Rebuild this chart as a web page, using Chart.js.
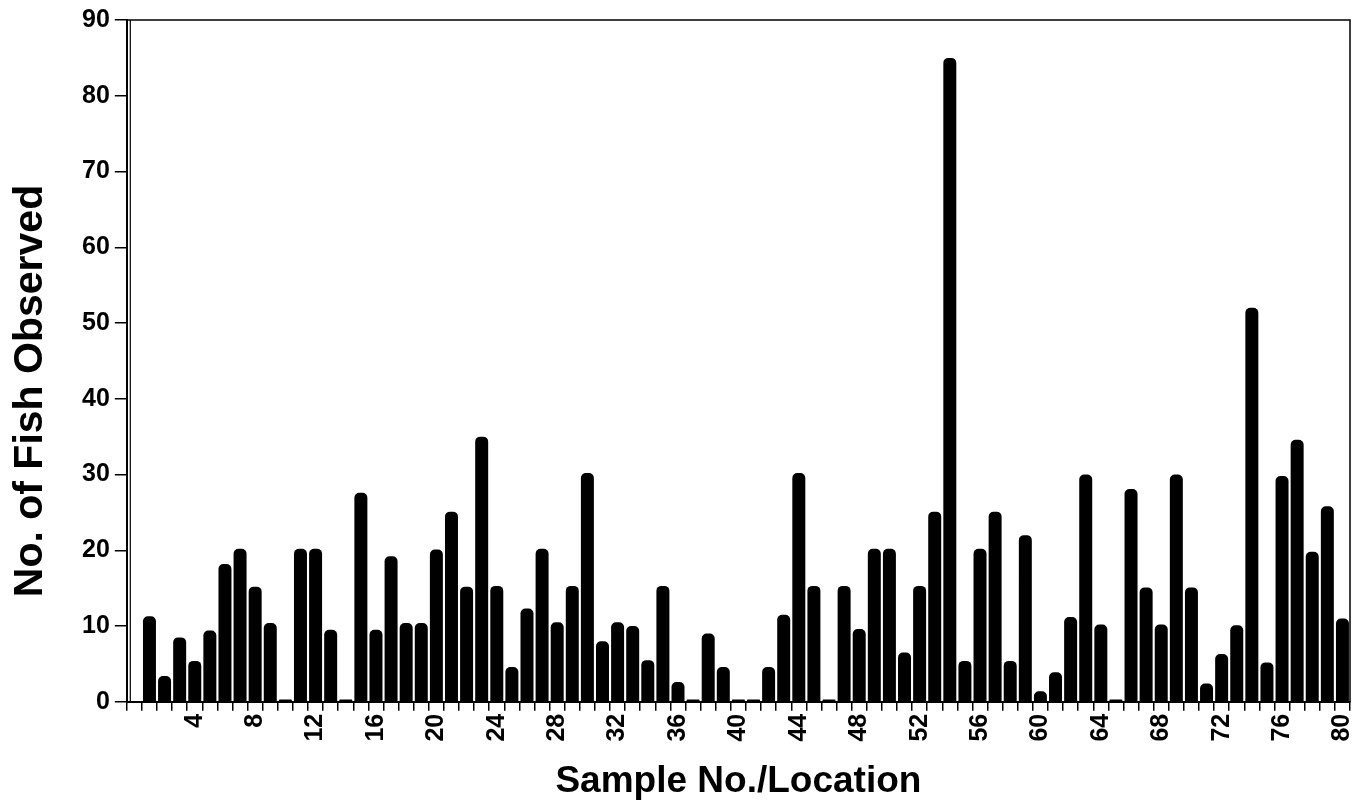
<!DOCTYPE html>
<html>
<head>
<meta charset="utf-8">
<script src="https://cdn.jsdelivr.net/npm/chart.js@4/dist/chart.umd.min.js"></script>
<style>
  html, body { margin: 0; padding: 0; background: #fff; }
  #wrap { width: 1357px; height: 804px; }
</style>
</head>
<body>
<div id="wrap"><canvas id="chart1"></canvas></div>
<script>
// sample numbers 1..80 (the axis also has an empty slot before sample 1)
var samples = []
for (var i = 1; i <= 80; i++) samples.push(String(i))

// fish counts (flat stubs drawn as 0.3)
var fishCounts = [
  11.3, 3.4, 8.5, 5.4, 9.4, 18.2, 20.2, 15.2, 10.4, 0.3,
  20.2, 20.2, 9.5, 0.3, 27.6, 9.5, 19.2, 10.4, 10.4, 20.1,
  25.1, 15.2, 35, 15.3, 4.6, 12.3, 20.2, 10.5, 15.3, 30.2,
  8, 10.5, 10, 5.5, 15.3, 2.6, 0.3, 9, 4.6, 0.3,
  0.3, 4.6, 11.5, 30.2, 15.3, 0.3, 15.3, 9.6, 20.2, 20.2,
  6.5, 15.3, 25.1, 85, 5.4, 20.2, 25.1, 5.4, 22, 1.4,
  3.9, 11.2, 30, 10.2, 0.3, 28.1, 15.1, 10.2, 30, 15.1,
  2.4, 6.3, 10.1, 52, 5.2, 29.8, 34.6, 19.8, 25.8, 11
]

var yTicks = [0, 10, 20, 30, 40, 50, 60, 70, 80, 90]
var yTitle = 'No. of Fish Observed'
var xTitle = 'Sample No./Location'

var fam = 'Liberation Sans, Arial, sans-serif'
var labelFont = { family: fam, size: 25, weight: 'bold' }

// box round the plot area, second left rule, and the y title
const framePlugin = {
  id: 'frame',
  afterDraw(chart) {
    var a = chart.chartArea
    var ctx = chart.ctx
    ctx.save()
    ctx.strokeStyle = '#000'
    ctx.lineWidth = 1.5
    ctx.strokeRect(a.left, a.top, a.right - a.left, a.bottom - a.top)
    ctx.lineWidth = 1.2
    ctx.beginPath()
    ctx.moveTo(a.left + 3.5, a.top)
    ctx.lineTo(a.left + 3.5, a.bottom)
    ctx.stroke()

    ctx.translate(31, 391)
    ctx.rotate(-Math.PI / 2)
    ctx.fillStyle = '#000'
    ctx.font = 'bold 41px ' + fam
    ctx.textAlign = 'center'
    ctx.textBaseline = 'middle'
    ctx.fillText(yTitle, 0, 0)
    ctx.restore()
  },
}

const config1 = {
  type: 'bar',
  data: {
    labels: [''].concat(samples),
    datasets: [
      {
        label: yTitle,
        data: [null].concat(fishCounts),
        backgroundColor: '#000',
        borderRadius: { topLeft: 5, topRight: 5, bottomLeft: 0, bottomRight: 0 },
        borderSkipped: 'bottom',
        barPercentage: 0.86,
        categoryPercentage: 1,
      },
    ],
  },
  options: {
    responsive: true,
    maintainAspectRatio: false,
    animation: false,
    layout: { padding: { top: 0, right: 7, left: 77, bottom: 0 } },
    plugins: { legend: { display: false }, tooltip: { enabled: false } },
    scales: {
      x: {
        afterFit: function (scale) {
          scale.paddingRight = 0
          scale.paddingLeft = 0
        },
        grid: { drawOnChartArea: false, color: '#000', tickLength: 9, lineWidth: 1.5 },
        border: { color: '#000', width: 2 },
        ticks: {
          color: '#000',
          font: labelFont,
          autoSkip: false,
          minRotation: 90,
          maxRotation: 90,
          padding: 3,
          callback: function (v, i) {
            var n = Number(this.getLabelForValue(v))
            return n > 0 && n % 4 === 0 ? String(n) : ''
          },
        },
        title: { display: true, text: xTitle, color: '#000', font: { family: fam, size: 37, weight: 'bold' }, padding: { top: 15, bottom: 0 } },
      },
      y: {
        min: 0,
        max: 90,
        afterBuildTicks: function (axis) {
          axis.ticks = yTicks.map(function (v) { return { value: v } })
        },
        grid: { drawOnChartArea: false, color: '#000', tickLength: 12, lineWidth: 1.5 },
        border: { color: '#000', width: 2 },
        ticks: { color: '#000', font: labelFont, padding: 5 },
      },
    },
  },
  plugins: [framePlugin],
}

var chart1Element = document.getElementById('chart1').getContext('2d')
var chart1 = new Chart(chart1Element, config1)
</script>
</body>
</html>
